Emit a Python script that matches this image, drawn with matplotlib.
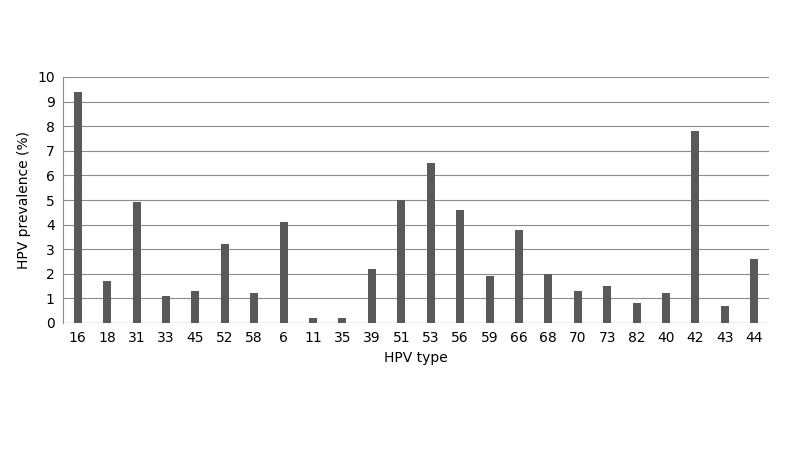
import matplotlib.pyplot as plt
import numpy as np

hpv_types = ['16', '18', '31', '33', '45', '52', '58', '6', '11', '35', '39', '51',
             '53', '56', '59', '66', '68', '70', '73', '82', '40', '42', '43', '44']
prevalence = [9.4, 1.7, 4.9, 1.1, 1.3, 3.2, 1.2, 4.1, 0.2, 0.2, 2.2, 5.0,
              6.5, 4.6, 1.9, 3.8, 2.0, 1.3, 1.5, 0.8, 1.2, 7.8, 0.7, 2.6]

fig = plt.figure(figsize=(8, 4.68), dpi=100)
ax = fig.add_axes([63 / 800, 1 - 323 / 468, 706 / 800, 246 / 468])

x = np.arange(len(hpv_types))
ax.bar(x, prevalence, width=0.27, color='#595959', zorder=3)

ax.set_xlim(-0.5, len(hpv_types) - 0.5)
ax.set_ylim(0, 10)
ax.set_yticks(range(0, 11))
ax.set_xticks(x)
ax.set_xticklabels(hpv_types)
ax.yaxis.grid(True, color='#8c8c8c', linewidth=0.8, zorder=0)
ax.tick_params(axis='both', labelsize=10, length=0, pad=6)
for s in ['top', 'right', 'bottom']:
    ax.spines[s].set_visible(False)
ax.spines['left'].set_color('#8c8c8c')
ax.axhline(0, color='#8c8c8c', linewidth=0.8, zorder=4)

ax.set_xlabel('HPV type', fontsize=10)
ax.set_ylabel('HPV prevalence (%)', fontsize=10)

fig.savefig('out.png', dpi=100)
